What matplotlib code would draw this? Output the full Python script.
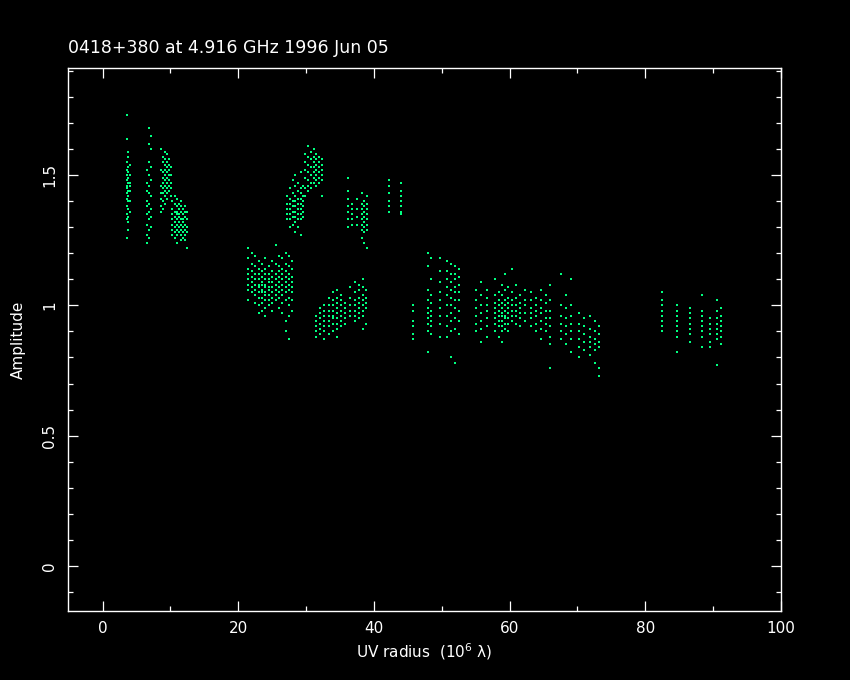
import matplotlib
matplotlib.use("Agg")
import matplotlib.pyplot as plt
from matplotlib.ticker import MultipleLocator

# ---------------- data ----------------
title_text = "0418+380 at 4.916 GHz 1996 Jun 05"
xlabel_text = "UV radius  (10$^{6}$ λ)"
ylabel_text = "Amplitude"

x_ticks = [0, 20, 40, 60, 80, 100]
y_ticks = [0, 0.5, 1, 1.5]
y_tick_labels = ["0", "0.5", "1", "1.5"]

# each entry: uv radius of a vertical streak, and the amplitudes seen along it
streak_uv = [
    3.6, 3.8, 4.0,
    6.5, 6.8, 7.1,
    8.6, 8.9, 9.2, 9.5, 9.8, 10.1,
    10.3, 10.6, 10.9, 11.2, 11.5, 11.8, 12.1, 12.4,
    21.5, 22.0, 22.5, 23.0, 23.5, 24.0, 24.5, 25.0, 25.5, 26.0, 26.5, 27.0, 27.5, 27.9,
    27.2, 27.6, 28.0, 28.4, 28.8, 29.2, 29.6, 29.9, 30.3, 30.7, 31.1, 31.5, 31.9, 32.3,
    31.5, 32.1, 32.7, 33.3, 33.9, 34.5, 35.1, 35.7, 36.5, 37.2, 37.8, 38.4, 38.9,
    36.1, 36.8, 37.5, 38.2, 38.6, 39.0, 42.2, 44.0,
    45.7, 48.0, 48.4, 49.7, 50.8, 51.4, 52.0, 52.6, 55.0, 55.8, 56.6,
    57.9, 58.4, 58.9, 59.3, 59.8, 60.4, 61.0, 61.6, 62.2,
    63.2, 63.9, 64.6, 65.3, 66.0, 67.5, 68.3, 69.1,
    70.2, 71.0, 71.8, 72.6, 73.2,
    82.4, 84.7, 86.6, 88.3, 89.5, 90.5, 91.2,
]

streak_amp = [
    [1.73, 1.64, 1.55, 1.52, 1.50, 1.48, 1.46, 1.45, 1.43, 1.41, 1.38, 1.35, 1.33, 1.26],
    [1.59, 1.57, 1.53, 1.51, 1.49, 1.47, 1.44, 1.42, 1.40, 1.37, 1.34, 1.32, 1.29],
    [1.54, 1.50, 1.47, 1.46, 1.44, 1.40, 1.36],
    [1.52, 1.47, 1.44, 1.40, 1.38, 1.35, 1.31, 1.27, 1.24],
    [1.68, 1.62, 1.55, 1.50, 1.46, 1.43, 1.39, 1.36, 1.33, 1.29, 1.26],
    [1.65, 1.60, 1.53, 1.48, 1.42, 1.37, 1.34, 1.30],
    [1.60, 1.52, 1.46, 1.43, 1.41, 1.38, 1.36],
    [1.57, 1.55, 1.51, 1.49, 1.47, 1.45, 1.43, 1.40, 1.37],
    [1.59, 1.56, 1.54, 1.52, 1.50, 1.48, 1.46, 1.44, 1.42, 1.39],
    [1.58, 1.55, 1.53, 1.51, 1.49, 1.47, 1.45, 1.43, 1.41],
    [1.56, 1.54, 1.52, 1.50, 1.48, 1.46, 1.44],
    [1.53, 1.50, 1.47, 1.45, 1.42],
    [1.40, 1.37, 1.35, 1.33, 1.31, 1.29, 1.27],
    [1.42, 1.39, 1.36, 1.34, 1.32, 1.30, 1.28, 1.26],
    [1.41, 1.38, 1.36, 1.35, 1.33, 1.31, 1.29, 1.27, 1.24],
    [1.39, 1.37, 1.35, 1.34, 1.32, 1.30, 1.28],
    [1.40, 1.38, 1.36, 1.33, 1.31, 1.29, 1.27, 1.25],
    [1.37, 1.35, 1.33, 1.32, 1.30, 1.28, 1.26],
    [1.38, 1.36, 1.34, 1.31, 1.29, 1.27, 1.25],
    [1.36, 1.33, 1.30, 1.28, 1.22],
    [1.22, 1.18, 1.14, 1.12, 1.10, 1.08, 1.06, 1.02],
    [1.20, 1.16, 1.13, 1.11, 1.09, 1.07, 1.05],
    [1.19, 1.15, 1.12, 1.10, 1.08, 1.06, 1.04, 1.01],
    [1.17, 1.14, 1.12, 1.10, 1.08, 1.07, 1.05, 1.03, 1.00, 0.97],
    [1.16, 1.13, 1.11, 1.09, 1.08, 1.06, 1.05, 1.03, 1.01, 0.98],
    [1.18, 1.14, 1.12, 1.10, 1.08, 1.07, 1.05, 1.04, 1.02, 0.99, 0.96],
    [1.15, 1.12, 1.10, 1.09, 1.07, 1.06, 1.04, 1.02, 1.00],
    [1.17, 1.13, 1.11, 1.09, 1.07, 1.05, 1.03, 1.01, 0.98],
    [1.23, 1.16, 1.12, 1.10, 1.08, 1.06, 1.04, 1.02],
    [1.19, 1.15, 1.13, 1.11, 1.09, 1.07, 1.05, 1.03, 0.99],
    [1.18, 1.14, 1.12, 1.10, 1.08, 1.06, 1.04, 1.01, 0.97],
    [1.20, 1.16, 1.13, 1.11, 1.09, 1.07, 1.05, 1.02, 0.94, 0.90],
    [1.19, 1.15, 1.12, 1.10, 1.08, 1.06, 1.03, 1.00, 0.96, 0.87],
    [1.17, 1.14, 1.11, 1.09, 1.07, 1.05, 1.02, 0.98],
    [1.42, 1.39, 1.37, 1.35, 1.33],
    [1.45, 1.41, 1.39, 1.37, 1.35, 1.33, 1.30],
    [1.48, 1.43, 1.40, 1.38, 1.36, 1.34, 1.31],
    [1.50, 1.46, 1.42, 1.40, 1.38, 1.36, 1.34, 1.32, 1.28],
    [1.47, 1.44, 1.41, 1.39, 1.37, 1.35, 1.33, 1.30],
    [1.51, 1.45, 1.43, 1.41, 1.39, 1.37, 1.35, 1.33, 1.27],
    [1.46, 1.42, 1.40, 1.38, 1.36, 1.34],
    [1.58, 1.55, 1.52, 1.49, 1.45, 1.42],
    [1.61, 1.57, 1.54, 1.51, 1.48, 1.46, 1.44],
    [1.59, 1.56, 1.53, 1.50, 1.47, 1.45],
    [1.60, 1.57, 1.55, 1.53, 1.51, 1.49, 1.47],
    [1.58, 1.56, 1.54, 1.52, 1.50, 1.48, 1.46],
    [1.57, 1.55, 1.53, 1.51, 1.49, 1.47],
    [1.56, 1.54, 1.52, 1.50, 1.48, 1.42],
    [0.96, 0.94, 0.92, 0.90, 0.88],
    [0.99, 0.97, 0.95, 0.93, 0.91, 0.89],
    [1.00, 0.98, 0.96, 0.94, 0.92, 0.90, 0.87],
    [1.03, 1.00, 0.98, 0.96, 0.94, 0.92, 0.89],
    [1.05, 1.02, 1.00, 0.98, 0.96, 0.95, 0.93, 0.90],
    [1.06, 1.03, 1.01, 0.99, 0.97, 0.95, 0.93, 0.91, 0.88],
    [1.04, 1.02, 1.00, 0.98, 0.96, 0.94, 0.92],
    [1.01, 0.99, 0.97, 0.95, 0.93],
    [1.07, 1.03, 1.00, 0.98, 0.96],
    [1.09, 1.05, 1.02, 1.00, 0.98, 0.96, 0.94],
    [1.08, 1.06, 1.03, 1.01, 0.99, 0.97, 0.95],
    [1.10, 1.07, 1.04, 1.02, 1.00, 0.98, 0.96, 0.91],
    [1.06, 1.03, 1.01, 0.99, 0.93],
    [1.49, 1.44, 1.41, 1.38, 1.36, 1.33, 1.30],
    [1.39, 1.37, 1.35, 1.33, 1.31],
    [1.41, 1.37, 1.34, 1.31],
    [1.43, 1.39, 1.37, 1.35, 1.33, 1.31, 1.29, 1.26],
    [1.40, 1.38, 1.36, 1.34, 1.32, 1.30, 1.28, 1.24],
    [1.42, 1.39, 1.37, 1.35, 1.33, 1.31, 1.29, 1.22],
    [1.48, 1.46, 1.43, 1.40, 1.38, 1.36],
    [1.47, 1.44, 1.42, 1.40, 1.38, 1.36, 1.35],
    [1.00, 0.98, 0.94, 0.92, 0.89, 0.87],
    [1.20, 1.15, 1.06, 1.02, 0.99, 0.97, 0.95, 0.93, 0.90, 0.82],
    [1.18, 1.10, 1.04, 1.01, 0.98, 0.96, 0.94, 0.92, 0.89],
    [1.18, 1.13, 1.09, 1.05, 1.02, 0.99, 0.96, 0.93, 0.88],
    [1.17, 1.13, 1.10, 1.07, 1.04, 1.00, 0.96, 0.92, 0.88],
    [1.16, 1.12, 1.09, 1.06, 1.03, 1.00, 0.97, 0.94, 0.90, 0.80],
    [1.15, 1.12, 1.10, 1.07, 1.05, 1.02, 0.99, 0.95, 0.91, 0.78],
    [1.14, 1.11, 1.08, 1.05, 1.02, 0.98, 0.94, 0.89],
    [1.06, 1.02, 0.99, 0.96, 0.93, 0.90],
    [1.09, 1.04, 1.00, 0.97, 0.94, 0.91, 0.86],
    [1.06, 1.03, 1.00, 0.98, 0.95, 0.92, 0.88],
    [1.10, 1.04, 1.01, 0.99, 0.97, 0.95, 0.93, 0.90],
    [1.05, 1.02, 1.00, 0.98, 0.96, 0.94, 0.92, 0.88],
    [1.08, 1.04, 1.01, 0.99, 0.97, 0.96, 0.94, 0.92, 0.90, 0.86],
    [1.12, 1.06, 1.02, 1.00, 0.98, 0.96, 0.95, 0.93, 0.91],
    [1.07, 1.03, 1.01, 0.99, 0.97, 0.95, 0.93, 0.90],
    [1.14, 1.05, 1.02, 1.00, 0.98, 0.96, 0.94],
    [1.08, 1.03, 1.00, 0.98, 0.96, 0.93],
    [1.04, 1.01, 0.99, 0.97, 0.95, 0.92],
    [1.06, 1.02, 1.00, 0.97, 0.94],
    [1.05, 1.02, 0.99, 0.97, 0.95, 0.92],
    [1.03, 1.00, 0.98, 0.96, 0.93, 0.90],
    [1.06, 1.02, 0.99, 0.97, 0.94, 0.91, 0.87],
    [1.04, 1.01, 0.98, 0.95, 0.93, 0.90],
    [1.08, 1.02, 0.98, 0.95, 0.92, 0.88, 0.85, 0.76],
    [1.12, 1.00, 0.96, 0.93, 0.90, 0.87],
    [1.04, 0.99, 0.95, 0.92, 0.89, 0.85],
    [1.10, 1.00, 0.96, 0.93, 0.90, 0.87, 0.82],
    [0.97, 0.93, 0.90, 0.87, 0.84, 0.80],
    [0.95, 0.92, 0.89, 0.86, 0.83],
    [0.96, 0.91, 0.88, 0.86, 0.84, 0.81],
    [0.94, 0.90, 0.87, 0.85, 0.83, 0.78],
    [0.92, 0.89, 0.86, 0.84, 0.76, 0.73],
    [1.05, 1.02, 1.00, 0.98, 0.96, 0.94, 0.92, 0.90],
    [1.00, 0.98, 0.96, 0.94, 0.92, 0.90, 0.88, 0.82],
    [0.99, 0.97, 0.95, 0.93, 0.91, 0.89, 0.86],
    [1.04, 0.98, 0.96, 0.94, 0.92, 0.90, 0.88, 0.84],
    [0.95, 0.93, 0.91, 0.89, 0.86, 0.84],
    [1.02, 0.98, 0.95, 0.93, 0.91, 0.89, 0.87, 0.77],
    [0.99, 0.96, 0.94, 0.92, 0.90, 0.88, 0.85],
]

# ---------------- figure ----------------
W, H = 850, 680
fig = plt.figure(figsize=(W / 100, H / 100), dpi=100, facecolor="black")
ax = fig.add_axes([68 / W, 1 - 611 / H, (781 - 68) / W, (611 - 68) / H])
ax.set_facecolor("black")

pt_color = "#00FF80"
for u, amps in zip(streak_uv, streak_amp):
    ax.scatter([u] * len(amps), amps, s=4.0, marker="s", c=pt_color,
               linewidths=0)

ax.set_xlim(-5.1, 100)
ax.set_ylim(-0.173, 1.911)

ax.set_xticks(x_ticks)
ax.set_xticklabels([str(t) for t in x_ticks])
ax.set_yticks(y_ticks)
ax.set_yticklabels(y_tick_labels, rotation=90, va="center")
ax.xaxis.set_minor_locator(MultipleLocator(10))
ax.yaxis.set_minor_locator(MultipleLocator(0.1))

for sp in ax.spines.values():
    sp.set_color("white")
    sp.set_linewidth(1.0)

ax.tick_params(which="both", direction="in", top=True, right=True,
               colors="white", width=0.9)
ax.tick_params(which="major", length=7)
ax.tick_params(which="minor", length=3.5)
ax.tick_params(axis="x", which="major", pad=7, labelsize=11)
ax.tick_params(axis="y", which="major", pad=8, labelsize=11)

fig.text(68 / W, 1 - 48 / H, title_text, color="white", fontsize=12.5,
         ha="left", va="center")
fig.text((68 + 781) / 2 / W, 1 - 652 / H, xlabel_text, color="white",
         fontsize=11, ha="center", va="center")
fig.text(18 / W, 0.5, ylabel_text, color="white", fontsize=11,
         ha="center", va="center", rotation=90)

fig.savefig("out.png", dpi=100, facecolor="black")
